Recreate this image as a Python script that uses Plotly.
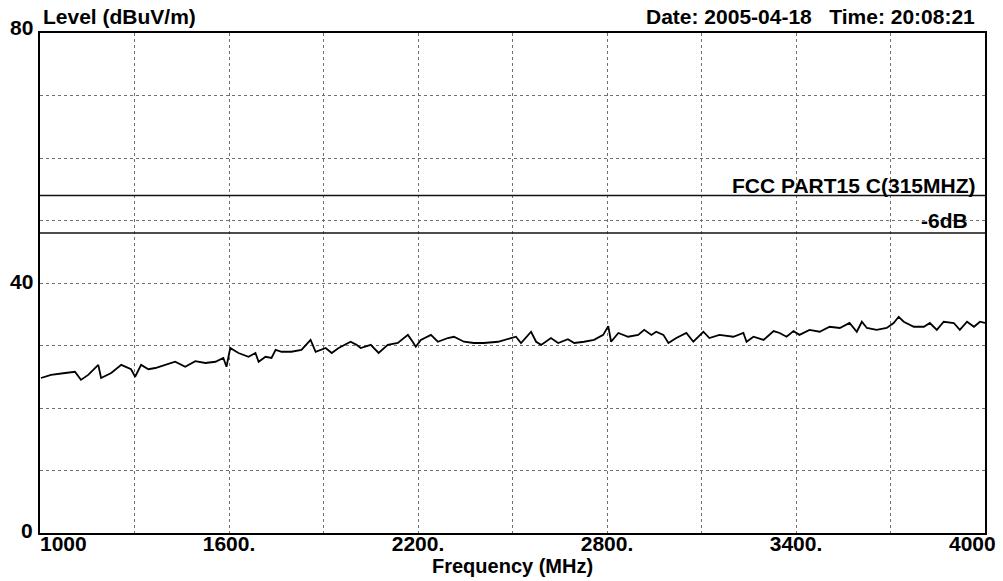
import plotly.graph_objects as go

# ---- data ----
freq_mhz = [1003, 1035, 1080, 1111, 1130, 1153, 1185, 1194, 1226, 1258, 1289, 1302, 1321, 1344,
            1366, 1398, 1429, 1461, 1493, 1525, 1557, 1582, 1592, 1604, 1630, 1662, 1684, 1694,
            1716, 1735, 1748, 1767, 1798, 1830, 1859, 1875, 1907, 1926, 1948, 1986, 2005, 2018,
            2050, 2075, 2104, 2136, 2168, 2183, 2193, 2209, 2241, 2263, 2295, 2314, 2346, 2377,
            2409, 2454, 2486, 2511, 2527, 2559, 2575, 2591, 2622, 2645, 2676, 2696, 2727, 2759,
            2788, 2804, 2813, 2836, 2867, 2899, 2918, 2941, 2956, 2979, 2995, 3020, 3052, 3074,
            3106, 3125, 3157, 3201, 3233, 3243, 3265, 3297, 3329, 3348, 3370, 3392, 3411, 3443,
            3475, 3507, 3539, 3570, 3593, 3609, 3625, 3656, 3688, 3710, 3726, 3742, 3774, 3806,
            3825, 3847, 3869, 3901, 3920, 3943, 3965, 3984, 4000]
level_dbuv = [24.8, 25.3, 25.6, 25.8, 24.5, 25.3, 26.9, 24.8, 25.6, 26.9, 26.2, 25.0, 26.9, 26.2,
              26.4, 26.9, 27.4, 26.6, 27.5, 27.2, 27.4, 28.0, 26.6, 29.6, 28.8, 28.2, 28.8, 27.4,
              28.2, 28.0, 29.3, 29.0, 29.0, 29.3, 30.9, 29.0, 29.6, 28.8, 29.6, 30.6, 30.1, 29.6,
              30.1, 28.8, 30.1, 30.4, 31.7, 30.6, 29.8, 30.9, 31.7, 30.6, 31.2, 31.4, 30.6, 30.4,
              30.4, 30.6, 31.0, 31.4, 30.4, 32.2, 30.6, 30.1, 31.2, 30.4, 31.0, 30.4, 30.6, 30.9,
              31.7, 33.1, 30.6, 32.0, 31.4, 31.7, 32.5, 31.7, 32.2, 31.7, 30.4, 31.2, 32.0, 30.6,
              32.2, 31.2, 31.7, 31.4, 32.0, 30.6, 31.4, 30.9, 32.3, 32.0, 31.4, 32.3, 31.7, 32.5,
              32.2, 33.0, 32.8, 33.6, 32.2, 33.8, 32.8, 32.5, 32.8, 33.6, 34.6, 33.8, 33.0, 33.0,
              33.6, 32.5, 33.8, 33.6, 32.5, 33.8, 33.0, 33.8, 33.6]

x_range = [1000, 4000]
y_range = [0, 80]
fcc_limit = 54
margin_limit = 48
fcc_label = "FCC PART15 C(315MHZ)"
margin_label = "-6dB"

x_grid = [1000, 1300, 1600, 1900, 2200, 2500, 2800, 3100, 3400, 3700, 4000]
x_ticktext = ["", "", "1600.", "", "2200.", "", "2800.", "", "3400.", "", ""]
y_grid = [0, 10, 20, 30, 40, 50, 60, 70, 80]
y_labels = [0, 40, 80]

FONT = "Liberation Sans, Arial, sans-serif"

fig = go.Figure()
fig.add_trace(go.Scatter(x=x_range, y=[fcc_limit, fcc_limit], mode="lines",
                         line=dict(color="#111", width=1.6), hoverinfo="skip"))
fig.add_trace(go.Scatter(x=x_range, y=[margin_limit, margin_limit], mode="lines",
                         line=dict(color="#111", width=1.6), hoverinfo="skip"))
fig.add_trace(go.Scatter(x=freq_mhz, y=level_dbuv, mode="lines",
                         line=dict(color="black", width=1.8)))

y_shifts = {0: 3, 40: 2, 80: 6}
ann = []
ann.append(dict(x=0, y=1, xref="paper", yref="paper", xanchor="left", yanchor="bottom",
                xshift=1, yshift=3, text="Level (dBuV/m)", showarrow=False))
ann.append(dict(x=1, y=1, xref="paper", yref="paper", xanchor="right", yanchor="bottom",
                xshift=-8, yshift=3, text="Date: 2005-04-18&nbsp;&nbsp;&nbsp;Time: 20:08:21",
                showarrow=False))
for v in y_labels:
    ann.append(dict(x=0, y=v, xref="paper", yref="y", xanchor="right", yanchor="middle",
                    xshift=-5, yshift=y_shifts[v], text=str(v), showarrow=False))
ann.append(dict(x=x_range[0], y=0, xref="x", yref="paper", xanchor="left", yanchor="top",
                xshift=-2, yshift=3, text=str(x_range[0]), showarrow=False))
ann.append(dict(x=x_range[1], y=0, xref="x", yref="paper", xanchor="right", yanchor="top",
                xshift=13, yshift=3, text=str(x_range[1]), showarrow=False))
ann.append(dict(x=0.5, y=0, xref="paper", yref="paper", xanchor="center", yanchor="bottom",
                yshift=-46, text="Frequency (MHz)", showarrow=False, font=dict(size=20)))
ann.append(dict(x=x_range[1], y=fcc_limit, xref="x", yref="y", xanchor="right", yanchor="bottom",
                xshift=-8, yshift=-3, text=fcc_label, showarrow=False))
ann.append(dict(x=x_range[1], y=margin_limit, xref="x", yref="y", xanchor="right", yanchor="bottom",
                xshift=-15, yshift=-1, text=margin_label, showarrow=False))

fig.update_layout(
    width=1003, height=581,
    margin=dict(l=40, r=18, t=33, b=48),
    paper_bgcolor="white", plot_bgcolor="white",
    showlegend=False,
    font=dict(family=FONT, size=21, color="black", weight="bold"),
    annotations=ann,
    xaxis=dict(range=x_range, tickvals=x_grid, ticktext=x_ticktext, ticks="",
               ticklabelstandoff=-9,
               showgrid=True, gridcolor="#707070", griddash="dot", gridwidth=1,
               showline=True, linecolor="black", linewidth=2, mirror=True,
               zeroline=False, tickfont=dict(size=21)),
    yaxis=dict(range=y_range, tickvals=y_grid, showticklabels=False, ticks="",
               showgrid=True, gridcolor="#707070", griddash="dot", gridwidth=1,
               showline=True, linecolor="black", linewidth=2, mirror=True,
               zeroline=False),
)

# remove the page's default 8px body margin so the figure fills the window exactly
fig.write_html("out.html", config={"displayModeBar": False},
               post_script="document.body.style.margin='0';")
